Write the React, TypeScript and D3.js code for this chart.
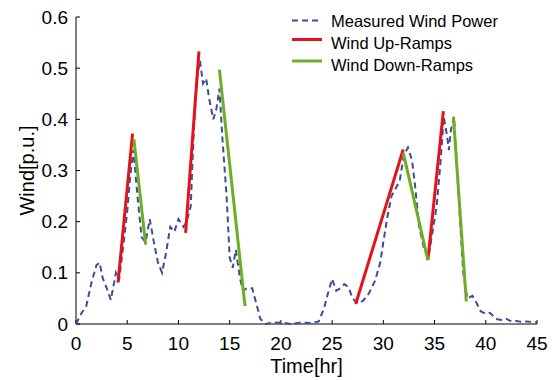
import React from "react";
import * as d3 from "d3";

const measuredTime = [0, 0.5, 1.0, 1.5, 2.0, 2.3, 2.6, 3.0, 3.4, 3.9, 4.2, 4.6, 5.0, 5.3, 5.6, 6.0, 6.4, 6.8, 7.2, 7.6, 8.0, 8.4, 8.8, 9.2, 9.6, 10.0, 10.5, 10.8, 11.2, 11.5, 11.8, 12.1, 12.4, 12.7, 13.0, 13.4, 13.7, 14.0, 14.3, 14.7, 15.0, 15.3, 15.6, 16.0, 16.3, 16.7, 17.2, 17.6, 18.0, 18.5, 19, 20, 21, 22, 23, 23.7, 24.2, 24.6, 25.0, 25.4, 25.8, 26.2, 26.6, 27.0, 27.5, 28.0, 28.6, 29.2, 29.7, 30.0, 30.4, 30.8, 31.2, 31.6, 32.0, 32.4, 32.8, 33.1, 33.5, 34.0, 34.4, 34.8, 35.2, 35.6, 35.9, 36.2, 36.4, 36.6, 36.9, 37.2, 37.5, 37.8, 38.2, 38.7, 39.0, 39.5, 40.0, 40.4, 41.0, 41.5, 42.0, 42.5, 43.0, 43.5, 44.0, 45.0];
const measuredValue = [0, 0.02, 0.035, 0.08, 0.115, 0.12, 0.09, 0.07, 0.047, 0.1, 0.085, 0.15, 0.22, 0.29, 0.34, 0.25, 0.17, 0.16, 0.205, 0.16, 0.12, 0.1, 0.14, 0.19, 0.18, 0.205, 0.19, 0.2, 0.23, 0.38, 0.48, 0.515, 0.47, 0.48, 0.44, 0.4, 0.42, 0.46, 0.36, 0.25, 0.13, 0.11, 0.145, 0.09, 0.065, 0.07, 0.07, 0.04, 0.01, 0, 0.002, 0.003, 0, 0.003, 0.002, 0.005, 0.03, 0.06, 0.088, 0.065, 0.07, 0.078, 0.072, 0.05, 0.04, 0.045, 0.06, 0.085, 0.12, 0.16, 0.21, 0.25, 0.265, 0.28, 0.33, 0.345, 0.32, 0.27, 0.19, 0.145, 0.13, 0.18, 0.23, 0.32, 0.405, 0.37, 0.34, 0.38, 0.405, 0.3, 0.2, 0.1, 0.05, 0.055, 0.045, 0.025, 0.02, 0.022, 0.01, 0.008, 0.01, 0.005, 0.006, 0.004, 0.005, 0.003];

const upRampTimes = [[4.1, 5.52], [10.7, 12.0], [27.3, 31.94], [34.35, 35.86]];
const upRampValues = [[0.081, 0.372], [0.178, 0.533], [0.039, 0.341], [0.125, 0.416]];
const downRampTimes = [[5.65, 6.8], [14.0, 16.5], [31.94, 34.35], [36.84, 38.1]];
const downRampValues = [[0.361, 0.155], [0.497, 0.035], [0.335, 0.125], [0.405, 0.044]];

const xTicks = [0, 5, 10, 15, 20, 25, 30, 35, 40, 45];
const yTicks = [0, 0.1, 0.2, 0.3, 0.4, 0.5, 0.6];
const legendLabels = ["Measured Wind Power", "Wind Up-Ramps", "Wind Down-Ramps"];

const W = 553, H = 380;
const left = 76, right = 537, top = 17, bottom = 324;
const font = "'Liberation Sans', Arial, sans-serif";
const measuredColor = "#3d4d94";
const upColor = "#e3131b";
const downColor = "#6fae24";

export default function App() {
  const x = d3.scaleLinear().domain([0, 45]).range([left, right]);
  const y = d3.scaleLinear().domain([0, 0.6]).range([bottom, top]);
  const line = d3.line<number>().x((_, i) => x(measuredTime[i])).y((d) => y(d));
  const measuredPath = line(measuredValue) || "";

  const seg = (ts: number[], vs: number[]) =>
    d3.line<number>().x((_, i) => x(ts[i])).y((d) => y(d))(vs) || "";

  const legendRows = [20.5, 39.5, 61];
  const legendText = [21, 43, 65];

  return (
    <svg width={W} height={H} style={{ position: "absolute", left: 0, top: 0, background: "#fff" }} fontFamily={font}>
      <rect width={W} height={H} fill="#fff" />
      {/* axes */}
      <line x1={left} x2={left} y1={top} y2={bottom} stroke="#000" strokeWidth={1} />
      <line x1={left} x2={right} y1={bottom} y2={bottom} stroke="#000" strokeWidth={1} />
      {xTicks.map((t) => (
        <g key={"x" + t}>
          <line x1={x(t)} x2={x(t)} y1={bottom} y2={bottom - 4} stroke="#000" />
          <text x={x(t)} y={343} textAnchor="middle" dominantBaseline="central" fontSize={19}>{t}</text>
        </g>
      ))}
      {yTicks.map((t) => (
        <g key={"y" + t}>
          <line x1={left} x2={left + 4} y1={y(t)} y2={y(t)} stroke="#000" />
          <text x={68} y={y(t)} textAnchor="end" dominantBaseline="central" fontSize={19}>{t === 0 ? "0" : t.toFixed(1)}</text>
        </g>
      ))}
      <text x={(left + right) / 2} y={366} textAnchor="middle" dominantBaseline="central" fontSize={20}>Time[hr]</text>
      <text transform={`translate(27,${(top + bottom) / 2}) rotate(-90)`} textAnchor="middle" dominantBaseline="central" fontSize={20}>Wind[p.u.]</text>

      {/* measured */}
      <path d={measuredPath} fill="none" stroke={measuredColor} strokeWidth={2} strokeDasharray="6,4" />
      {upRampTimes.map((ts, i) => (
        <path key={"u" + i} d={seg(ts, upRampValues[i])} fill="none" stroke={upColor} strokeWidth={3} />
      ))}
      {downRampTimes.map((ts, i) => (
        <path key={"d" + i} d={seg(ts, downRampValues[i])} fill="none" stroke={downColor} strokeWidth={3} />
      ))}

      {/* legend */}
      <line x1={292} x2={322} y1={legendRows[0]} y2={legendRows[0]} stroke={measuredColor} strokeWidth={2} strokeDasharray="6,4" />
      <line x1={292} x2={322} y1={legendRows[1]} y2={legendRows[1]} stroke={upColor} strokeWidth={3} />
      <line x1={292} x2={322} y1={legendRows[2]} y2={legendRows[2]} stroke={downColor} strokeWidth={3} />
      {legendLabels.map((l, i) => (
        <text key={l} x={331} y={legendText[i]} dominantBaseline="central" fontSize={16.5}>{l}</text>
      ))}
    </svg>
  );
}
